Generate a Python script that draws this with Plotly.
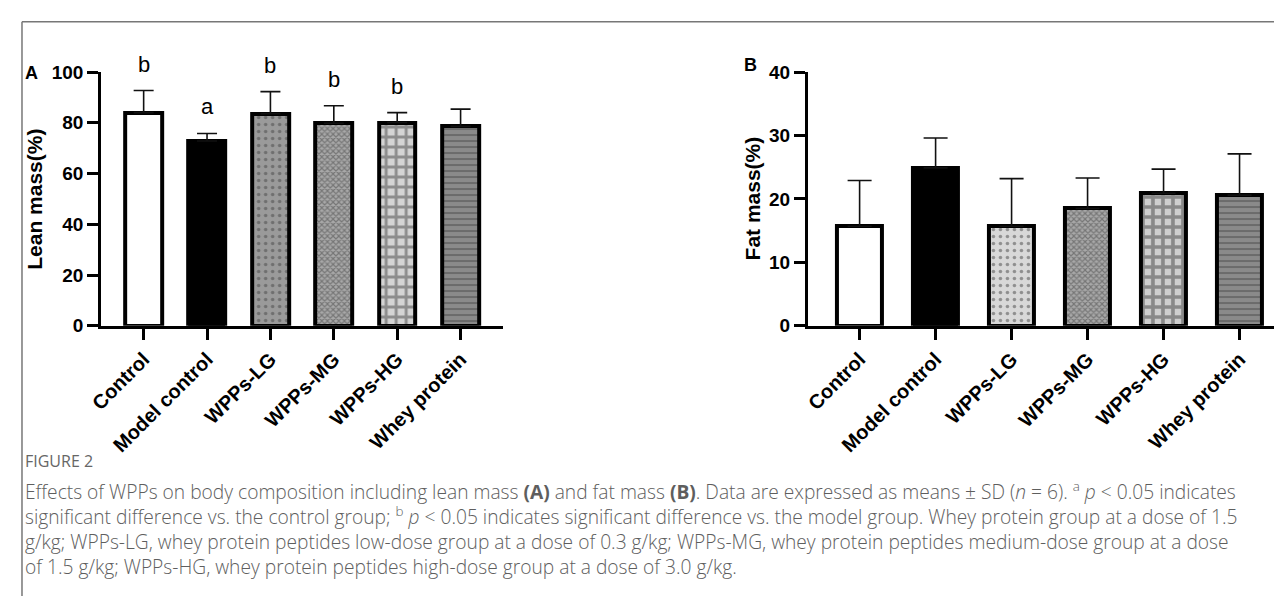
import plotly.graph_objects as go

categories = ["Control", "Model control", "WPPs-LG", "WPPs-MG", "WPPs-HG", "Whey protein"]

lean_mean = [84.0, 72.8, 83.6, 79.8, 80.1, 78.6]
lean_sd = [8.7, 3.0, 8.7, 6.9, 3.9, 6.8]
lean_letters = ["b", "a", "b", "b", "b", ""]

fat_mean = [15.7, 24.9, 15.7, 18.5, 20.9, 20.6]
fat_sd = [7.2, 4.7, 7.5, 4.8, 3.8, 6.5]

y_ticks_lean = [0, 20, 40, 60, 80, 100]
y_ticks_fat = [0, 10, 20, 30, 40]

# styles
shapes_pat = ["", "", ".", "x", "+", "-"]
bg_A = ["#ffffff", "#000000", "#9a9a9a", "#a8a8a8", "#d4d4d4", "#8a8a8a"]
fg_A = ["#ffffff", "#000000", "#404040", "#3c3c3c", "#5c5c5c", "#c8c8c8"]
bg_B = ["#ffffff", "#000000", "#d8d8d8", "#a8a8a8", "#cfcfcf", "#8a8a8a"]
fg_B = ["#ffffff", "#000000", "#707070", "#3c3c3c", "#1e1e1e", "#c8c8c8"]
size_pat_A = [8, 8, 7, 4, 10, 6]
size_pat_B = [8, 8, 7, 4, 10, 6]
solid_pat_A = [0.3, 0.3, 0.2, 0.5, 0.5, 0.3]
solid_pat_B = [0.3, 0.3, 0.2, 0.5, 0.6, 0.3]

# the page body keeps an 8px margin: figure pixel = page pixel - 8
PAGE_MARGIN = 8
W, H = 1282, 599

def px(x):
    return (x - PAGE_MARGIN) / W

def py(y):
    return 1 - (y - PAGE_MARGIN) / H

fig = go.Figure()

idx = list(range(len(categories)))

fig.add_trace(go.Bar(
    x=idx, y=lean_mean, width=0.58,
    marker=dict(color=bg_A, line=dict(color="black", width=4),
                pattern=dict(shape=shapes_pat, fgcolor=fg_A,
                             size=size_pat_A, solidity=solid_pat_A, fillmode="overlay")),
    error_y=dict(type="data", symmetric=False, array=lean_sd, arrayminus=[0] * 6,
                 color="#111111", thickness=1.6, width=10),
    xaxis="x", yaxis="y", showlegend=False, hoverinfo="skip",
))

fig.add_trace(go.Bar(
    x=idx, y=fat_mean, width=0.59,
    marker=dict(color=bg_B, line=dict(color="black", width=4),
                pattern=dict(shape=shapes_pat, fgcolor=fg_B,
                             size=size_pat_B, solidity=solid_pat_B, fillmode="overlay")),
    error_y=dict(type="data", symmetric=False, array=fat_sd, arrayminus=[0] * 6,
                 color="#111111", thickness=1.6, width=12),
    xaxis="x2", yaxis="y2", showlegend=False, hoverinfo="skip",
))

axis_common = dict(showline=True, linewidth=3, linecolor="black", ticks="outside",
                   tickwidth=3, tickcolor="black", showgrid=False, zeroline=False)
xfont = dict(family="Liberation Sans, Arial", size=20, color="black", weight="bold")
yfont = dict(family="Liberation Sans, Arial", size=19, color="black", weight="bold")

y_dom = [py(327), py(64)]
# B axis: tick spacing ~76.8px, first tick at x=855; axis starts at x=803
b_right = (W + PAGE_MARGIN - 855) / 76.8

fig.update_layout(
    width=W, height=H, margin=dict(l=0, r=0, t=0, b=0),
    paper_bgcolor="white", plot_bgcolor="white", bargap=0,
    xaxis=dict(domain=[px(89), px(495)], range=[-0.67, 5.67], tickvals=idx,
               ticktext=categories, tickangle=-45, ticklen=11, anchor="y",
               tickfont=xfont, **axis_common),
    yaxis=dict(domain=y_dom, range=[0, 100], tickvals=y_ticks_lean, ticklen=11,
               anchor="x", tickfont=yfont, **axis_common),
    xaxis2=dict(domain=[px(803), 1.0], range=[-0.68, b_right], tickvals=idx,
                ticktext=categories, tickangle=-45, ticklen=11, anchor="y2",
                tickfont=xfont, **axis_common),
    yaxis2=dict(domain=y_dom, range=[0, 40], tickvals=y_ticks_fat, ticklen=11,
                anchor="x2", tickfont=yfont, **axis_common),
)

annotations = []
# significance letters
for i, (m, s, letter) in enumerate(zip(lean_mean, lean_sd, lean_letters)):
    if letter:
        annotations.append(dict(x=i, y=m + s, xref="x", yref="y", text=letter,
                                showarrow=False, xanchor="center", yanchor="bottom", yshift=12,
                                font=dict(family="Liberation Sans, Arial", size=22, color="black")))

# axis titles
annotations.append(dict(x=px(22), y=(y_dom[0] + y_dom[1]) / 2, xref="paper", yref="paper",
                        text="<b>Lean mass(%)</b>", textangle=-90, showarrow=False,
                        xanchor="center", yanchor="middle",
                        font=dict(family="Liberation Sans, Arial", size=21, color="black")))
annotations.append(dict(x=px(747), y=(y_dom[0] + y_dom[1]) / 2, xref="paper", yref="paper",
                        text="<b>Fat mass(%)</b>", textangle=-90, showarrow=False,
                        xanchor="center", yanchor="middle",
                        font=dict(family="Liberation Sans, Arial", size=21, color="black")))
# panel letters
annotations.append(dict(x=px(19), y=py(65), xref="paper", yref="paper", text="<b>A</b>",
                        showarrow=False, xanchor="center", yanchor="middle",
                        font=dict(family="Liberation Sans, Arial", size=18, color="black")))
annotations.append(dict(x=px(745), y=py(57), xref="paper", yref="paper", text="<b>B</b>",
                        showarrow=False, xanchor="center", yanchor="middle",
                        font=dict(family="Liberation Sans, Arial", size=18, color="black")))

# caption
annotations.append(dict(x=px(10), y=py(467), xref="paper", yref="paper", text="FIGURE 2",
                        xanchor="left", yanchor="middle", showarrow=False,
                        font=dict(family="Open Sans", size=16, color="#666666")))
caption_lines = [
    "Effects of WPPs on body composition including lean mass <b>(A)</b> and fat mass <b>(B)</b>. "
    "Data are expressed as means ± SD (<i>n</i> = 6). <sup>a</sup> <i>p</i> &lt; 0.05 indicates",
    "significant difference vs. the control group; <sup>b</sup> <i>p</i> &lt; 0.05 indicates significant "
    "difference vs. the model group. Whey protein group at a dose of 1.5",
    "g/kg; WPPs-LG, whey protein peptides low-dose group at a dose of 0.3 g/kg; WPPs-MG, whey protein "
    "peptides medium-dose group at a dose",
    "of 1.5 g/kg; WPPs-HG, whey protein peptides high-dose group at a dose of 3.0 g/kg.",
]
annotations.append(dict(x=px(10), y=py(482), xref="paper", yref="paper",
                        text="<br>".join(caption_lines), align="left",
                        xanchor="left", yanchor="top", showarrow=False,
                        font=dict(family="Open Sans", size=19.2, color="#5e5e5e", weight=300)))

fig.update_layout(annotations=annotations)

# frame lines
fig.add_shape(type="line", xref="paper", yref="paper", x0=px(9), x1=1.0, y0=py(12), y1=py(12),
              line=dict(color="#777777", width=1.5))
fig.add_shape(type="line", xref="paper", yref="paper", x0=px(9), x1=px(9), y0=py(12), y1=0,
              line=dict(color="#777777", width=1.5))

fig.write_html("out.html", config={"displayModeBar": False})
